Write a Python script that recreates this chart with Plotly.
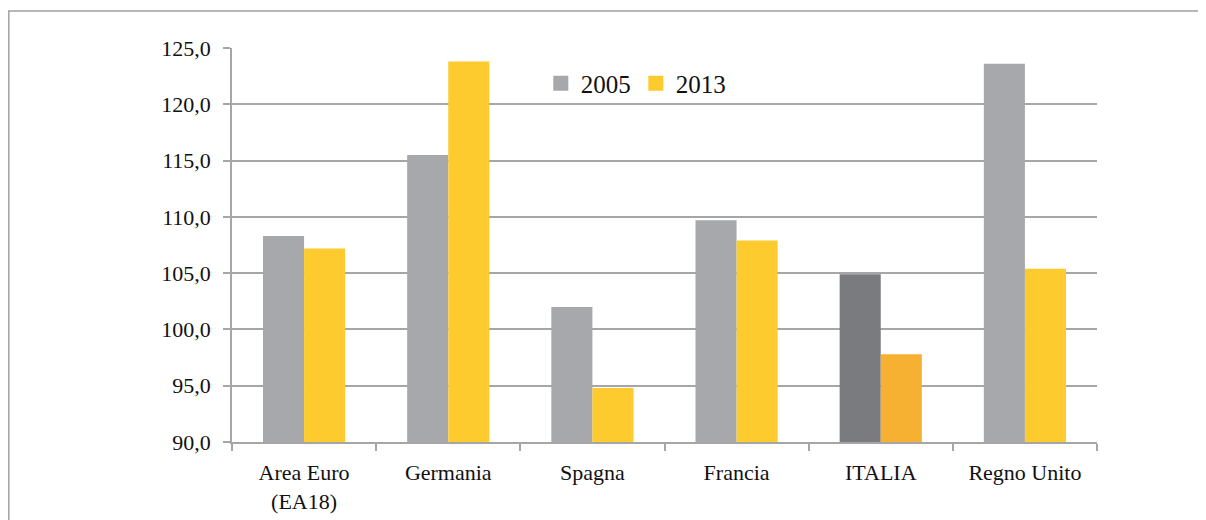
import plotly.graph_objects as go

# data
paesi = ["Area Euro<br>(EA18)", "Germania", "Spagna", "Francia", "ITALIA", "Regno Unito"]
val_2005 = [108.3, 115.5, 102.0, 109.7, 104.9, 123.6]
val_2013 = [107.2, 123.8, 94.8, 107.9, 97.8, 105.4]

GRAY = "#a7a8ac"
YELLOW = "#fdcb2e"
DARK_GRAY = "#7a7b7f"
ORANGE = "#f6b132"

# Italy highlighted with darker tones
col_2005 = [DARK_GRAY if p == "ITALIA" else GRAY for p in paesi]
col_2013 = [ORANGE if p == "ITALIA" else YELLOW for p in paesi]

FONT = "'Liberation Serif', 'Times New Roman', serif"

fig = go.Figure()

fig.add_trace(go.Bar(
    x=paesi, y=val_2005,
    marker=dict(color=col_2005, line_width=0),
    name="2005", showlegend=False,
))
fig.add_trace(go.Bar(
    x=paesi, y=val_2013,
    marker=dict(color=col_2013, line_width=0),
    name="2013", showlegend=False,
))

# legend entries (plain colour squares)
for name, color in [("2005", GRAY), ("2013", YELLOW)]:
    fig.add_trace(go.Scatter(
        x=[None], y=[None], mode="markers", name=name,
        marker=dict(symbol="square", size=15, color=color),
    ))

# outer frame of the chart
fig.add_shape(
    type="rect", xref="paper", yref="paper",
    x0=-0.258, x1=1.3, y0=-0.5, y1=1.094,
    line=dict(color="#a0a0a0", width=1.5),
)

# page body has an 8px margin, so the figure is 8px smaller than the window
fig.update_layout(
    width=1198, height=512,
    margin=dict(l=224, r=109, t=40, b=78),
    plot_bgcolor="white", paper_bgcolor="white",
    barmode="group", bargap=0.43, bargroupgap=0,
    separators=",.",
    font=dict(family=FONT, size=22, color="#111111"),
    xaxis=dict(
        showline=True, linecolor="#a6a6a6", linewidth=1.5,
        ticks="outside", tickson="boundaries", ticklen=7,
        tickcolor="#a6a6a6", tickwidth=1.5,
        showgrid=False, ticklabelstandoff=10, automargin=False,
    ),
    yaxis=dict(
        range=[90, 125], dtick=5, tickformat=".1f",
        showline=True, linecolor="#a6a6a6", linewidth=1.5,
        ticks="outside", ticklen=7, tickcolor="#a6a6a6", tickwidth=1.5,
        gridcolor="#a6a6a6", gridwidth=1.5,
        zeroline=False, ticklabelstandoff=8, automargin=False,
    ),
    legend=dict(
        orientation="h", x=0.357, y=0.91, xanchor="left", yanchor="middle",
        font=dict(size=25), itemwidth=30, tracegroupgap=0,
        bgcolor="rgba(0,0,0,0)",
    ),
)

fig.write_html("out.html")
